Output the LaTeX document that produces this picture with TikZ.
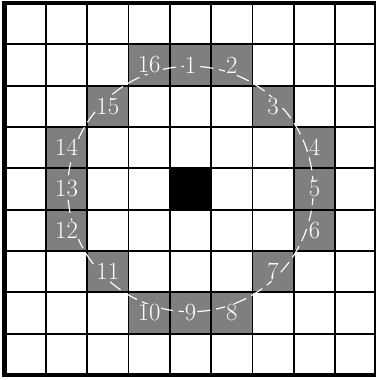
\documentclass[tikz,border=0pt]{standalone}
\definecolor{celdaGris}{HTML}{7F7F7F}
\usepackage{tikz}
\usetikzlibrary{positioning}
\tikzset{
	rejilla/.style={
		line width=1.2pt,
		black
	},
	borde/.style={
		line width=3.3pt,
		black
	},
	celda/.style={
		fill=celdaGris
	},
	centro/.style={
		fill=black,
		minimum size=1cm,
		inner sep=0pt
	},
	anillo/.style={
		draw=white,
		line width=0.8pt,
		dash pattern=on 9pt off 4pt
	},
	etiqueta/.style={
		fill=celdaGris,
		text=white,
		inner sep=0.6pt,
		font=\fontsize{17}{20}\selectfont
	}
}

\begin{document}
\begin{tikzpicture}
		\useasboundingbox (-0.109,-0.121) rectangle (8.976,9.073);
		\foreach \n/\c/\r in {1/4/1, 2/5/1, 3/6/2, 4/7/3, 5/7/4, 6/7/5, 7/6/6, 8/5/7,
			9/4/7, 10/3/7, 11/2/6, 12/1/5, 13/1/4, 14/1/3, 15/2/2, 16/3/1}{
			\fill[celda] (\c,8-\r) rectangle ++(1,1);
		}
		\node[centro] (medio) at (4.5,4.5) {};
		\draw[rejilla] (0,0) grid (9,9);
		\draw[borde] (0,0) rectangle (9,9);
		\draw[anillo] (medio) circle[radius=2.97];
		\foreach \n/\c/\r in {1/4/1, 2/5/1, 3/6/2, 4/7/3, 5/7/4, 6/7/5, 7/6/6, 8/5/7,
			9/4/7, 10/3/7, 11/2/6, 12/1/5, 13/1/4, 14/1/3, 15/2/2, 16/3/1}{
			\node[etiqueta] (e\n) at (\c+0.5,8.5-\r) {\n};
		}
	\end{tikzpicture}
\end{document}
